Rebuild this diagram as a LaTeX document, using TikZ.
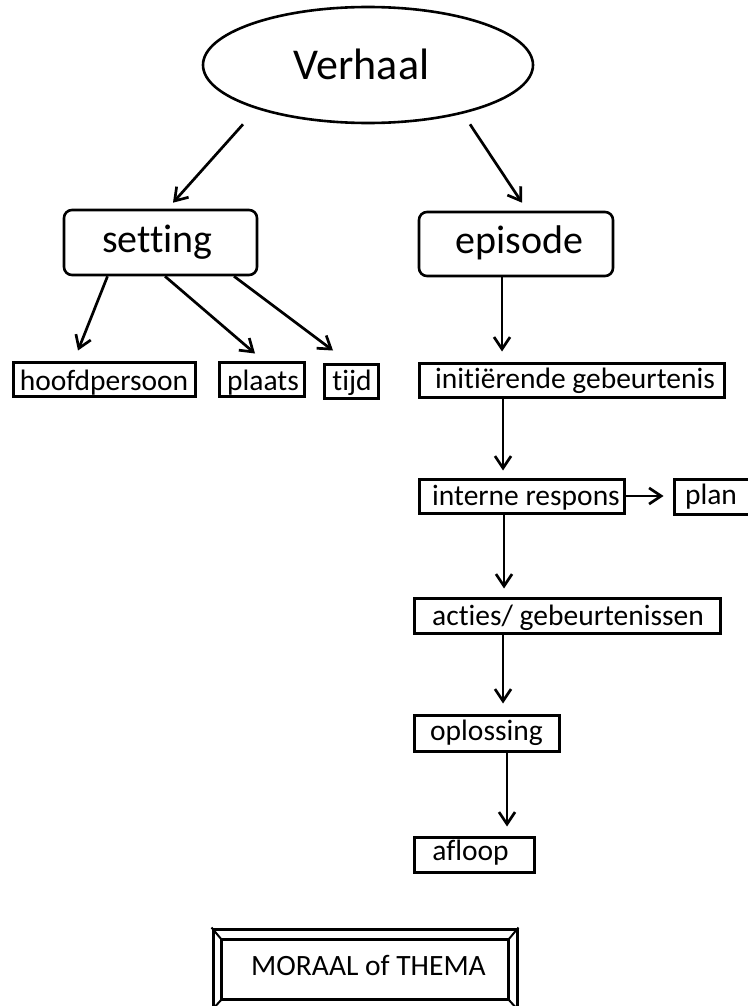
\documentclass[tikz,border=0pt]{standalone}
\usepackage{fontspec}
\setmainfont{Carlito}[Ligatures={NoCommon}]
\usetikzlibrary{arrows.meta,shapes.geometric}
\newcommand{\tsh}[2]{\kern#1pt\relax #2\kern-#1pt\relax}
\begin{document}
\begin{tikzpicture}[x=1pt,y=-1pt,
  sbox/.style={draw, line width=3pt, inner sep=0pt, minimum height=34pt,
    font=\fontsize{29.5}{30}\selectfont, text depth=0pt},
  rbox/.style={draw, line width=2.6pt, rounded corners=8pt, inner sep=0pt,
    minimum width=193pt, minimum height=65pt,
    font=\fontsize{40}{42}\selectfont, text depth=0pt},
  arr/.style={line width=2.7pt, -{Straight Barb[length=12pt,width=16pt]}},
]
\useasboundingbox (0,0) rectangle (747,1006);

\node[draw, ellipse, line width=2.6pt, minimum width=330pt, minimum height=116pt,
  inner sep=0pt, font=\fontsize{44}{46}\selectfont, text height=30pt, text depth=0pt]
  (V) at (368,65) {\tsh{-6.5}{Verhaal}};

\node[rbox, text height=19pt] (S) at (160.5,242.5) {\tsh{-3}{setting}};
\node[rbox, minimum width=194pt, minimum height=64pt, text height=18pt] (E) at (516,244) {\tsh{3.5}{episode}};

\node[sbox, minimum width=182pt, text height=22pt] (H) at (104,379) {hoofdpersoon};
\node[sbox, minimum width=85pt, text height=22pt] (P) at (261.5,379) {\tsh{1.5}{plaats}};
\node[sbox, minimum width=54pt, text height=18pt] (T) at (351,381) {\tsh{1}{tijd}};

\node[sbox, minimum width=305pt, text height=16pt] (I) at (571.5,380) {\tsh{3.5}{initiërende gebeurtenis}};
\node[sbox, minimum width=205pt, text height=18pt] (R) at (521.5,496) {\tsh{4.5}{interne respons}};
\node[sbox, minimum width=84pt, minimum height=35pt, text height=16pt] (PL) at (716,496.5) {\tsh{-5}{plan}};
\node[sbox, minimum width=306pt, minimum height=35pt, text height=19pt] (A) at (567,615.5) {\tsh{1}{acties/ gebeurtenissen}};
\node[sbox, minimum width=145pt, minimum height=36pt, text height=14pt] (O) at (486.5,733) {oplossing};
\node[sbox, minimum width=120pt, minimum height=35pt, text height=11pt] (AF) at (474,854.5) {\tsh{-3.5}{afloop}};

\node[draw, line width=3pt, inner sep=0pt, minimum width=304pt, minimum height=80pt,
  font=\fontsize{29.5}{30}\selectfont, text height=12pt, text depth=0pt]
  (M) at (365,969) {\tsh{3.5}{MORAAL of THEMA}};
\coordinate (MNW) at ([shift={(10,12)}]M.north west);
\coordinate (MSE) at ([shift={(-10,-11)}]M.south east);
\coordinate (MNE) at ([shift={(-10,12)}]M.north east);
\coordinate (MSW) at ([shift={(10,-11)}]M.south west);
\draw[line width=3pt] (MNW) rectangle (MSE);
\draw[line width=2pt] (M.north west) -- (MNW) (M.north east) -- (MNE)
  (M.south west) -- (MSW) (M.south east) -- (MSE);

\draw[arr] ([shift={(-125,0)}]V.south) -- ([shift={(12.5,-6)}]S.north);
\draw[arr] ([shift={(102,0)}]V.south) -- ([shift={(6,-8)}]E.north);

\draw[arr] ([shift={(-53,0)}]S.south) -- ([shift={(-26,-10)}]H.north);
\draw[arr] ([shift={(4.5,0)}]S.south) -- ([shift={(-6.5,-7)}]P.north);
\draw[arr] ([shift={(73.5,0)}]S.south) -- ([shift={(-18,-12)}]T.north);

\draw[arr] ([shift={(-14,0)}]E.south) -- ([shift={(-69.5,-10)}]I.north);
\draw[arr] ([shift={(-68.5,0)}]I.south) -- ([shift={(-18.5,-7)}]R.north);
\draw[arr] (R.east) -- ([shift={(-9,-0.5)}]PL.west);
\draw[arr] ([shift={(-17.5,0)}]R.south) -- ([shift={(-63,-8)}]A.north);
\draw[arr] ([shift={(-64,0)}]A.south) -- ([shift={(16.5,-10)}]O.north);
\draw[arr] ([shift={(20.5,0)}]O.south) -- ([shift={(33,-9)}]AF.north);
\end{tikzpicture}
\end{document}
